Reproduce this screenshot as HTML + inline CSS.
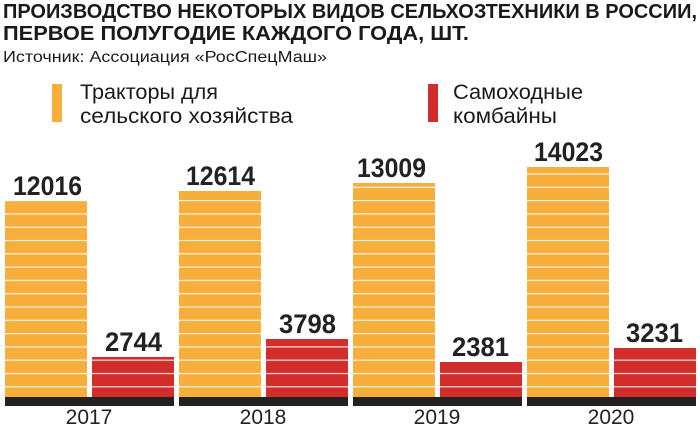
<!DOCTYPE html>
<html><head><meta charset="utf-8"><style>
html,body{margin:0;padding:0;background:#fff;width:700px;height:426px;overflow:hidden}
svg{display:block}
text{font-family:"Liberation Sans Narrow","Liberation Sans",sans-serif}
</style></head><body>
<svg width="700" height="426" viewBox="0 0 700 426">
<defs>
<pattern id="st" patternUnits="userSpaceOnUse" x="0" y="0.5" width="700" height="13.3">
<rect width="700" height="13.3" fill="none"/>
<rect y="0" width="700" height="1.2" fill="#fff" opacity="0.85"/>
</pattern>
</defs>
<text x="3" y="18" font-size="20" font-weight="bold" fill="#1a1a1a" textLength="694" lengthAdjust="spacingAndGlyphs">ПРОИЗВОДСТВО НЕКОТОРЫХ ВИДОВ СЕЛЬХОЗТЕХНИКИ В РОССИИ,</text>
<text x="3" y="40" font-size="20" font-weight="bold" fill="#1a1a1a" textLength="466" lengthAdjust="spacingAndGlyphs">ПЕРВОЕ ПОЛУГОДИЕ КАЖДОГО ГОДА, ШТ.</text>
<text x="3" y="62" font-size="16" fill="#1a1a1a" textLength="324" lengthAdjust="spacingAndGlyphs">Источник: Ассоциация «РосСпецМаш»</text>

<rect x="52" y="84" width="10" height="38" fill="#f7ae3b"/>
<text x="80" y="99" font-size="21" fill="#1a1a1a" font-family="Liberation Sans" textLength="138" lengthAdjust="spacingAndGlyphs">Тракторы для</text>
<text x="80" y="123" font-size="21" fill="#1a1a1a" font-family="Liberation Sans" textLength="213" lengthAdjust="spacingAndGlyphs">сельского хозяйства</text>
<rect x="428" y="84" width="10" height="38" fill="#d02d2b"/>
<text x="453" y="99" font-size="21" fill="#1a1a1a" font-family="Liberation Sans" textLength="130" lengthAdjust="spacingAndGlyphs">Самоходные</text>
<text x="453" y="123" font-size="21" fill="#1a1a1a" font-family="Liberation Sans" textLength="104" lengthAdjust="spacingAndGlyphs">комбайны</text>

<g>
<rect x="5" y="201" width="82" height="196" fill="#f7ae3b"/>
<rect x="92" y="357" width="82" height="40" fill="#d02d2b"/>
<rect x="179" y="191" width="82" height="206" fill="#f7ae3b"/>
<rect x="266" y="339" width="82" height="58" fill="#d02d2b"/>
<rect x="353" y="183" width="82" height="214" fill="#f7ae3b"/>
<rect x="440" y="362" width="82" height="35" fill="#d02d2b"/>
<rect x="527" y="167" width="82" height="230" fill="#f7ae3b"/>
<rect x="614" y="348" width="82" height="49" fill="#d02d2b"/>
<g fill="url(#st)">
<rect x="5" y="201" width="82" height="196"/>
<rect x="92" y="357" width="82" height="40"/>
<rect x="179" y="191" width="82" height="206"/>
<rect x="266" y="339" width="82" height="58"/>
<rect x="353" y="183" width="82" height="214"/>
<rect x="440" y="362" width="82" height="35"/>
<rect x="527" y="167" width="82" height="230"/>
<rect x="614" y="348" width="82" height="49"/>
</g>
<g fill="#222">
<rect x="5" y="397" width="169" height="9"/>
<rect x="179" y="397" width="169" height="9"/>
<rect x="353" y="397" width="169" height="9"/>
<rect x="527" y="397" width="169" height="9"/>
</g>
</g>
<g font-size="27" font-weight="bold" fill="#222" lengthAdjust="spacingAndGlyphs">
<text x="13" y="195" textLength="69" lengthAdjust="spacingAndGlyphs">12016</text>
<text x="105" y="351" textLength="57" lengthAdjust="spacingAndGlyphs">2744</text>
<text x="186" y="185" textLength="69" lengthAdjust="spacingAndGlyphs">12614</text>
<text x="279" y="333" textLength="57" lengthAdjust="spacingAndGlyphs">3798</text>
<text x="357" y="177" textLength="69" lengthAdjust="spacingAndGlyphs">13009</text>
<text x="452" y="356" textLength="57" lengthAdjust="spacingAndGlyphs">2381</text>
<text x="534" y="161" textLength="69" lengthAdjust="spacingAndGlyphs">14023</text>
<text x="626" y="342" textLength="57" lengthAdjust="spacingAndGlyphs">3231</text>
</g>
<g font-size="21" fill="#222" text-anchor="middle" font-family="Liberation Sans">
<text x="89" y="424">2017</text>
<text x="263" y="424">2018</text>
<text x="437" y="424">2019</text>
<text x="611" y="424">2020</text>
</g>
</svg>
</body></html>
